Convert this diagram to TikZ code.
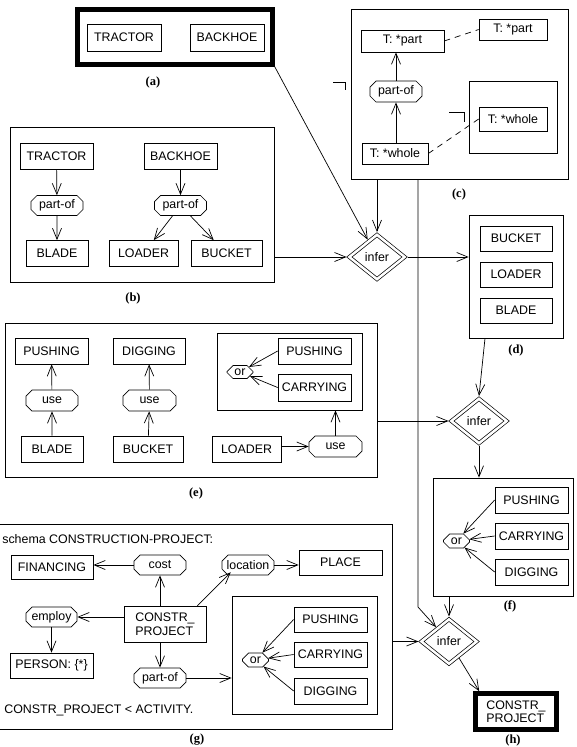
\documentclass[tikz,border=0pt]{standalone}
\usepackage{fontspec}
\setmainfont{Liberation Sans}
\newfontfamily\captionserif{Liberation Serif}
\usetikzlibrary{shapes.misc,shapes.geometric,arrows.meta}

\tikzstyle{concept} = [draw=black, line width=0.7pt, rectangle, inner sep=0pt,
    minimum height=26pt]
\tikzstyle{relation} = [draw=black, line width=0.7pt, chamfered rectangle,
    chamfered rectangle xsep=3pt, chamfered rectangle ysep=3pt, inner sep=0pt,
    minimum width=52pt, minimum height=20pt]
\tikzstyle{ornode} = [relation, minimum width=26pt, minimum height=14pt]
\tikzstyle{frame} = [draw=black, line width=0.7pt, rectangle, inner sep=0pt]
\tikzstyle{heavyframe} = [draw=black, line width=4.5pt, rectangle, inner sep=0pt]
\tikzstyle{infernode} = [diamond, draw=black, line width=0.7pt, double,
    double distance=2.5pt, aspect=1.25, minimum width=57pt, minimum height=46pt,
    inner sep=0pt, outer sep=2pt]
\tikzstyle{figlabel} = [font=\fontsize{12.5}{13}\selectfont\captionserif\bfseries]
\tikzstyle{corefer} = [dash pattern=on 6pt off 5pt, line width=0.7pt]

\begin{document}
\begin{tikzpicture}[x=1pt, y=-1pt, line width=0.7pt,
    >={Straight Barb[length=11pt,width=9pt]}, font=\fontsize{12.4}{13.5}\selectfont]
\useasboundingbox (0,0) rectangle (576,747);

\node[heavyframe, minimum width=195pt, minimum height=55pt] (fa) at (175,37) {};
\node[concept, minimum width=74pt, minimum height=27pt] (a-tractor) at (124,37.5) {TRACTOR};
\node[concept, minimum width=74pt, minimum height=27pt] (a-backhoe) at (227,37.5) {BACKHOE};
\node[figlabel] (la) at (153,82) {(a)};

\node[frame, minimum width=264pt, minimum height=155pt] (fb) at (142,204.5) {};
\node[concept, minimum width=73pt] (b-tractor) at (56.5,156) {TRACTOR};
\node[relation] (b-partof1) at (57,205.5) {part-of};
\node[concept, minimum width=62pt] (b-blade) at (57,253.5) {BLADE};
\node[concept, minimum width=73pt] (b-backhoe) at (180.5,156) {BACKHOE};
\node[relation] (b-partof2) at (180.5,205.5) {part-of};
\node[concept, minimum width=69pt] (b-loader) at (143.5,253.5) {LOADER};
\node[concept, minimum width=71pt] (b-bucket) at (226.5,253.5) {BUCKET};
\node[figlabel] (lb) at (133,298) {(b)};
\draw[->] (b-tractor) -- (b-partof1);
\draw[->] (b-partof1) -- (b-blade);
\draw[->] (b-backhoe) -- (b-partof2);
\draw[->] (b-partof2) -- (b-loader);
\draw[->] (b-partof2) -- (b-bucket);

\node[frame, minimum width=217pt, minimum height=170pt] (fc) at (459.5,94) {};
\node[concept, minimum width=83pt, minimum height=22pt] (c-part) at (402.5,41) {T: *part};
\node[concept, minimum width=68pt, minimum height=21pt] (c-partx) at (513,29.5) {T: *part};
\node[relation, minimum height=21pt] (c-partof) at (396,91.5) {part-of};
\node[concept, minimum width=66pt, minimum height=21pt] (c-whole) at (395,153.5) {T: *whole};
\node[frame, minimum width=88pt, minimum height=72pt] (c-inner) at (513,117) {};
\node[concept, minimum width=68pt, minimum height=24pt] (c-wholex) at (513,119) {T: *whole};
\node[figlabel] (lc) at (459,194) {(c)};
\draw[->] (c-partof.north) -- (c-partof.north |- c-part.south);
\draw[->] (c-partof.south |- c-whole.north) -- (c-partof.south);
\draw[corefer] (c-part.east) -- (c-partx.west);
\draw[corefer] (c-whole.east) -- (c-wholex.west);
\draw (333,82) -- (345,82) -- (345,90);
\draw (449,112) -- (464,112) -- (464,122);

\node[frame, minimum width=94pt, minimum height=123pt] (fd) at (516,276.5) {};
\node[concept, minimum width=72pt, minimum height=25pt] (d-bucket) at (516,238.5) {BUCKET};
\node[concept, minimum width=72pt, minimum height=25pt] (d-loader) at (516,274.5) {LOADER};
\node[concept, minimum width=72pt, minimum height=25pt] (d-blade) at (516,310.5) {BLADE};
\node[figlabel] (ld) at (516,350) {(d)};

\node[frame, minimum width=372pt, minimum height=154pt] (fe) at (191,400) {};
\node[concept, minimum width=73pt] (e-pushing) at (51.5,351) {PUSHING};
\node[relation, minimum height=21pt] (e-use1) at (52,400.5) {use};
\node[concept, minimum width=62pt] (e-blade) at (52,449) {BLADE};
\node[concept, minimum width=72pt] (e-digging) at (149,351) {DIGGING};
\node[relation, minimum width=53pt, minimum height=21pt] (e-use2) at (149.5,400.5) {use};
\node[concept, minimum width=70pt] (e-bucket) at (148,449) {BUCKET};
\node[frame, minimum width=145pt, minimum height=77pt] (e-inner) at (289.5,371.5) {};
\node[concept, minimum width=73pt] (e-pushing2) at (314.5,351) {PUSHING};
\node[concept, minimum width=73pt, minimum height=27pt] (e-carrying) at (314.5,387.5) {CARRYING};
\node[ornode, minimum height=13pt] (e-or) at (240,372) {or};
\node[concept, minimum width=69pt] (e-loader) at (246.5,449) {LOADER};
\node[relation, minimum width=53pt, minimum height=21pt] (e-use3) at (335.5,446.5) {use};
\node[figlabel] (le) at (196,493) {(e)};
\draw[->] (e-blade) -- (e-use1);
\draw[->] (e-use1) -- (e-pushing);
\draw[->] (e-bucket) -- (e-use2);
\draw[->] (e-use2) -- (e-digging);
\draw[->] (e-pushing2.west) -- (e-or);
\draw[->] (e-carrying.west) -- (e-or);
\draw[->] (e-loader.east |- e-use3.west) -- (e-use3.west);
\draw[->] (e-use3.north) -- (e-use3.north |- e-inner.south);

\node[frame, minimum width=140pt, minimum height=118pt] (ff) at (503,537) {};
\node[concept, minimum width=73pt] (f-pushing) at (531.5,500) {PUSHING};
\node[concept, minimum width=73pt] (f-carrying) at (531.5,536) {CARRYING};
\node[concept, minimum width=73pt] (f-digging) at (531.5,572) {DIGGING};
\node[ornode] (f-or) at (456.5,541) {or};
\node[figlabel] (lf) at (510,606) {(f)};
\draw[->] (f-pushing.west) -- (f-or);
\draw[->] (f-carrying.west) -- (f-or);
\draw[->] (f-digging.west) -- (f-or);

\node[frame, minimum width=395pt, minimum height=205pt] (fg) at (194.5,626.5) {};
\node[anchor=west, inner sep=0pt] (g-title) at (2,539) {schema CONSTRUCTION-PROJECT:};
\node[concept, minimum width=82pt, minimum height=24pt] (g-financing) at (52,567) {FINANCING};
\node[relation] (g-cost) at (160,565) {cost};
\node[relation] (g-location) at (248,565) {location};
\node[concept, minimum width=83pt, minimum height=25pt] (g-place) at (340.5,562.5) {PLACE};
\node[relation, minimum width=51pt] (g-employ) at (51.5,617) {employ};
\node[concept, minimum width=82pt, minimum height=36pt, align=left] (g-project) at (165,624) {CONSTR\_\\PROJECT};
\node[concept, minimum width=83pt, minimum height=25pt] (g-person) at (51.5,665.5) {PERSON: \{*\}};
\node[relation] (g-partof) at (160,678) {part-of};
\node[frame, minimum width=145pt, minimum height=118pt] (g-inner) at (304.5,655) {};
\node[concept, minimum width=73pt, minimum height=25pt] (g-pushing) at (330.5,619.5) {PUSHING};
\node[concept, minimum width=73pt, minimum height=25pt] (g-carrying) at (330.5,654.5) {CARRYING};
\node[concept, minimum width=73pt] (g-digging) at (330.5,691) {DIGGING};
\node[ornode] (g-or) at (255.5,660) {or};
\node[anchor=west, inner sep=0pt] (g-super) at (4,710) {CONSTR\_PROJECT < ACTIVITY.};
\node[figlabel] (lg) at (197,740) {(g)};
\draw[->] (g-cost.west) -- (g-cost.west -| g-financing.east);
\draw[->] (g-cost.south |- g-project.north) -- (g-cost.south);
\draw[->] ([xshift=-9pt]g-project.north east) -- ([xshift=6pt]g-location.south west);
\draw[->] (g-location.east) -- (g-location.east -| g-place.west);
\draw[->] (g-project.west |- g-employ.east) -- (g-employ.east);
\draw[->] (g-employ.south) -- (g-employ.south |- g-person.north);
\draw[->] (g-partof.north |- g-project.south) -- (g-partof.north);
\draw[->] (g-partof.east) -- (g-partof.east -| g-inner.west);
\draw[->] (g-pushing.west) -- (g-or);
\draw[->] (g-carrying.west) -- (g-or);
\draw[->] (g-digging.west) -- (g-or);

\node[heavyframe, minimum width=81pt, minimum height=36pt, align=left] (fh) at (516,711.5) {CONSTR\_\\PROJECT};
\node[figlabel] (lh) at (513,740) {(h)};

\node[infernode] (infer1) at (377,257) {infer};
\node[infernode] (infer2) at (479,421) {infer};
\node[infernode] (infer3) at (449,641.5) {infer};
\coordinate (cbend) at (418,607);

\draw[->] (fa.south east) -- (infer1);
\draw[->] (fc.south -| infer1.north) -- (infer1.north);
\draw[->] (fb.east |- infer1.west) -- (infer1.west);
\draw[->] (infer1.east) -- (infer1.east -| fd.west);
\draw[->] ([xshift=-31pt]fd.south) -- (infer2.north);
\draw[->] (fe.east |- infer2.west) -- (infer2.west);
\draw[->] (infer2.south) -- (infer2.south |- ff.north);
\draw[->] (infer3.north |- ff.south) -- (infer3.north);
\draw[->] (fg.east |- infer3.west) -- (infer3.west);
\draw[->] (fc.south -| cbend) -- (cbend) -- (infer3);
\draw[->] (infer3) -- ([xshift=6pt]fh.north west);
\end{tikzpicture}
\end{document}
